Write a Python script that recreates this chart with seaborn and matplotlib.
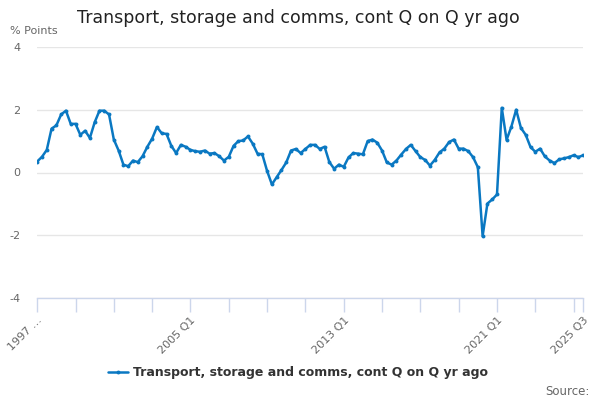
import matplotlib
matplotlib.use("Agg")
import matplotlib.pyplot as plt
import seaborn as sns
import pandas as pd

# quarters 1997 Q1 .. 2025 Q3
quarters = [f"{y} Q{q}" for y in range(1997, 2026) for q in range(1, 5)][:115]

values = [
    0.35, 0.50, 0.72, 1.40, 1.50, 1.85, 1.97, 1.55, 1.55, 1.20,
    1.33, 1.10, 1.60, 1.97, 1.97, 1.85, 1.05, 0.70, 0.25, 0.20,
    0.38, 0.33, 0.52, 0.82, 1.08, 1.45, 1.25, 1.23, 0.85, 0.62,
    0.88, 0.82, 0.72, 0.68, 0.66, 0.70, 0.60, 0.62, 0.52, 0.38,
    0.50, 0.85, 1.00, 1.02, 1.15, 0.92, 0.60, 0.58, 0.05, -0.38,
    -0.15, 0.08, 0.32, 0.70, 0.75, 0.62, 0.75, 0.88, 0.88, 0.75,
    0.82, 0.33, 0.12, 0.25, 0.18, 0.48, 0.62, 0.60, 0.58, 1.00,
    1.05, 0.95, 0.70, 0.32, 0.25, 0.38, 0.57, 0.75, 0.88, 0.68,
    0.49, 0.40, 0.22, 0.40, 0.64, 0.76, 0.97, 1.05, 0.76, 0.76,
    0.68, 0.49, 0.17, -2.03, -0.99, -0.86, -0.70, 2.06, 1.04, 1.46,
    2.00, 1.42, 1.20, 0.81, 0.66, 0.76, 0.51, 0.38, 0.30, 0.42,
    0.45, 0.49, 0.55, 0.49, 0.55,
]

tick_pos = list(range(0, 113, 8)) + [114]
label_pos = [0, 32, 64, 96, 114]
tick_labels = ["1997 …", "2005 Q1", "2013 Q1", "2021 Q1", "2025 Q3"]

series_name = "Transport, storage and comms, cont Q on Q yr ago"
line_color = "#0a78c2"

df = pd.DataFrame({"idx": range(len(values)), "quarter": quarters, "value": values})

sns.set_theme(style="white")
plt.rcParams["font.family"] = ["DejaVu Sans"]

fig = plt.figure(figsize=(6, 4), dpi=100)
ax = fig.add_axes([0.062, 0.255, 0.91, 0.6275])

sns.lineplot(data=df, x="idx", y="value", ax=ax, color=line_color, linewidth=1.8,
             marker="o", markersize=2.8, markeredgewidth=0, label=series_name)

ax.set_xlim(0, 114)
ax.set_ylim(-4, 4)
ax.set_yticks([-4, -2, 0, 2, 4])
ax.set_yticklabels(["-4", "-2", "0", "2", "4"])
ax.yaxis.grid(True, color="#e6e6e6", linewidth=1)
ax.set_axisbelow(True)
for s in ["top", "right", "left"]:
    ax.spines[s].set_visible(False)
ax.spines["bottom"].set_color("#ccd6eb")
ax.spines["bottom"].set_linewidth(1)
ax.spines["bottom"].set_zorder(0.5)

ax.set_xticks(tick_pos)
ax.set_xticklabels([tick_labels[label_pos.index(p)] if p in label_pos else "" for p in tick_pos],
                   rotation=45, ha="right", rotation_mode="anchor")
ax.tick_params(axis="x", length=10, width=1, color="#ccd6eb", labelsize=8,
               labelcolor="#666666", pad=2, direction="out", bottom=True)
ax.tick_params(axis="y", length=0, labelsize=8, labelcolor="#666666", pad=12)
ax.set_xlabel("")
ax.set_ylabel("")

fig.text(0.017, 0.922, "% Points", fontsize=8, color="#666666", va="center", ha="left")
fig.suptitle("Transport, storage and comms, cont Q on Q yr ago", x=0.497, y=0.955,
             va="center", fontsize=12.5, color="#222222", fontweight="normal")

ax.legend_.remove()
leg = fig.legend(loc="center", bbox_to_anchor=(0.497, 0.068), frameon=False,
                 fontsize=9, handlelength=1.6, handletextpad=0.4)
for t in leg.get_texts():
    t.set_fontweight("bold")
    t.set_color("#333333")

fig.text(0.982, 0.022, "Source:", fontsize=8.5, color="#666666", ha="right", va="center")

fig.savefig("out.png", dpi=100)
